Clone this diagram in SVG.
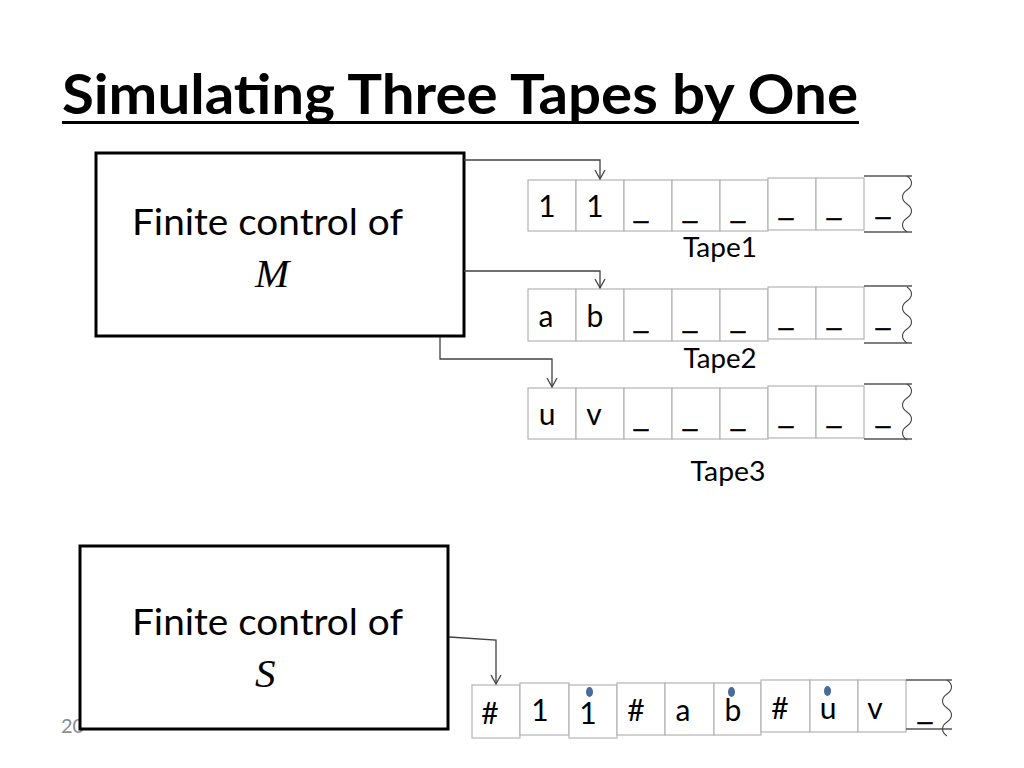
<svg xmlns="http://www.w3.org/2000/svg" width="1024" height="768" viewBox="0 0 1024 768">
<defs>
<style>
.title{font-family:Lato,"Open Sans","Liberation Sans",sans-serif;font-weight:bold;font-size:56px;fill:#000}
.lbl{font-family:Lato,"Open Sans","Liberation Sans",sans-serif;font-size:37px;fill:#000}
.var{font-family:"Liberation Serif","Times New Roman",serif;font-style:italic;font-size:41px;fill:#000}
.box{fill:#fff;stroke:#000;stroke-width:3}
.cell{fill:#fff;stroke:#b4b4b4;stroke-width:1.2}
.edge{stroke:#555;stroke-width:1.5;fill:none}
.wave{stroke:#444;stroke-width:1.1;fill:none}
.ct{font-family:Lato,"Open Sans","Liberation Sans",sans-serif;font-size:30px;fill:#000;text-anchor:middle}
.us{font-family:Lato,"Open Sans","Liberation Sans",sans-serif;font-size:28px;fill:#000;stroke:#000;stroke-width:0.6;text-anchor:middle}
.tl{font-family:Lato,"Open Sans","Liberation Sans",sans-serif;font-size:27px;fill:#000;text-anchor:middle}
.conn{stroke:#404040;stroke-width:1.3;fill:none}
.dot{fill:#4a6a9c}
.pg{font-family:Lato,"Open Sans","Liberation Sans",sans-serif;font-size:20px;fill:#8c8c8c}
</style>
<marker id="arr" markerUnits="userSpaceOnUse" markerWidth="14" markerHeight="14" viewBox="-11 -7 14 14" refX="0" refY="0" orient="auto" overflow="visible">
<path d="M-9,-5 L0,0 L-9,5" fill="none" stroke="#404040" stroke-width="1.3"/>
</marker>
<path id="wv" d="M0,0 c6,4 6,10 0,14 s-6,10 0,14 s6,10 0,14 s-6,10 0,14"/>
</defs>

<g id="title">
<text class="title" x="62" y="114" textLength="796" lengthAdjust="spacingAndGlyphs">Simulating Three Tapes by One</text>
<rect x="62" y="121" width="797" height="3" fill="#000"/>
</g>

<text class="pg" x="61" y="733">20</text>

<g id="controlM">
<rect class="box" x="96" y="153" width="368" height="183"/>
<text class="lbl" x="132" y="235" textLength="271" lengthAdjust="spacingAndGlyphs">Finite control of</text>
<text class="var" x="255" y="287">M</text>
</g>

<g id="controlS">
<rect class="box" x="80" y="546" width="368" height="183"/>
<text class="lbl" x="132" y="635" textLength="271" lengthAdjust="spacingAndGlyphs">Finite control of</text>
<text class="var" x="255" y="687">S</text>
</g>

<g id="tape1">
<rect class="cell" x="528" y="180" width="48" height="51"/>
<rect class="cell" x="576" y="180" width="48" height="51"/>
<rect class="cell" x="624" y="180" width="48" height="51"/>
<rect class="cell" x="672" y="180" width="48" height="51"/>
<rect class="cell" x="720" y="180" width="48" height="51"/>
<rect class="cell" x="768" y="178" width="48" height="52"/>
<rect class="cell" x="816" y="178" width="48" height="52"/>
<line class="edge" x1="864" y1="176" x2="912" y2="176"/>
<line class="edge" x1="864" y1="232" x2="912" y2="232"/>
<use href="#wv" class="wave" x="907" y="176"/>
<text class="ct" x="547" y="217">1</text>
<text class="ct" x="595" y="217">1</text>
<text class="us" x="641" y="219" textLength="17" lengthAdjust="spacingAndGlyphs">_</text>
<text class="us" x="690" y="219" textLength="17" lengthAdjust="spacingAndGlyphs">_</text>
<text class="us" x="738" y="219" textLength="17" lengthAdjust="spacingAndGlyphs">_</text>
<text class="us" x="786" y="216" textLength="17" lengthAdjust="spacingAndGlyphs">_</text>
<text class="us" x="834" y="216" textLength="17" lengthAdjust="spacingAndGlyphs">_</text>
<text class="us" x="883" y="215" textLength="17" lengthAdjust="spacingAndGlyphs">_</text>
<text class="tl" x="720" y="257" textLength="74" lengthAdjust="spacingAndGlyphs">Tape1</text>
</g>

<g id="tape2">
<rect class="cell" x="528" y="289" width="48" height="52"/>
<rect class="cell" x="576" y="289" width="48" height="52"/>
<rect class="cell" x="624" y="289" width="48" height="52"/>
<rect class="cell" x="672" y="289" width="48" height="52"/>
<rect class="cell" x="720" y="289" width="48" height="52"/>
<rect class="cell" x="768" y="287" width="48" height="52"/>
<rect class="cell" x="816" y="287" width="48" height="52"/>
<line class="edge" x1="864" y1="286" x2="912" y2="286"/>
<line class="edge" x1="864" y1="343" x2="912" y2="343"/>
<use href="#wv" class="wave" x="907" y="287"/>
<text class="ct" x="546" y="327">a</text>
<text class="ct" x="595" y="327">b</text>
<text class="us" x="641" y="329" textLength="17" lengthAdjust="spacingAndGlyphs">_</text>
<text class="us" x="690" y="329" textLength="17" lengthAdjust="spacingAndGlyphs">_</text>
<text class="us" x="738" y="329" textLength="17" lengthAdjust="spacingAndGlyphs">_</text>
<text class="us" x="786" y="326" textLength="17" lengthAdjust="spacingAndGlyphs">_</text>
<text class="us" x="834" y="326" textLength="17" lengthAdjust="spacingAndGlyphs">_</text>
<text class="us" x="883" y="326" textLength="17" lengthAdjust="spacingAndGlyphs">_</text>
<text class="tl" x="720" y="368" textLength="73" lengthAdjust="spacingAndGlyphs">Tape2</text>
</g>

<g id="tape3">
<rect class="cell" x="528" y="388" width="48" height="51"/>
<rect class="cell" x="576" y="388" width="48" height="51"/>
<rect class="cell" x="624" y="388" width="48" height="51"/>
<rect class="cell" x="672" y="388" width="48" height="51"/>
<rect class="cell" x="720" y="388" width="48" height="51"/>
<rect class="cell" x="768" y="386" width="48" height="52"/>
<rect class="cell" x="816" y="386" width="48" height="52"/>
<line class="edge" x1="864" y1="384" x2="912" y2="384"/>
<line class="edge" x1="864" y1="439" x2="912" y2="439"/>
<use href="#wv" class="wave" x="907" y="384"/>
<text class="ct" x="547" y="425">u</text>
<text class="ct" x="594" y="425">v</text>
<text class="us" x="641" y="427" textLength="17" lengthAdjust="spacingAndGlyphs">_</text>
<text class="us" x="690" y="427" textLength="17" lengthAdjust="spacingAndGlyphs">_</text>
<text class="us" x="738" y="427" textLength="17" lengthAdjust="spacingAndGlyphs">_</text>
<text class="us" x="786" y="424" textLength="17" lengthAdjust="spacingAndGlyphs">_</text>
<text class="us" x="834" y="424" textLength="17" lengthAdjust="spacingAndGlyphs">_</text>
<text class="us" x="883" y="424" textLength="17" lengthAdjust="spacingAndGlyphs">_</text>
<text class="tl" x="728" y="481" textLength="75" lengthAdjust="spacingAndGlyphs">Tape3</text>
</g>

<g id="tapeS">
<rect class="cell" x="472" y="685" width="48" height="53"/>
<rect class="cell" x="520" y="683" width="49" height="52"/>
<rect class="cell" x="569" y="685" width="48" height="53"/>
<rect class="cell" x="617" y="683" width="48" height="52"/>
<rect class="cell" x="665" y="683" width="49" height="52"/>
<rect class="cell" x="714" y="683" width="47" height="52"/>
<rect class="cell" x="761" y="680" width="49" height="52"/>
<rect class="cell" x="810" y="680" width="48" height="52"/>
<rect class="cell" x="858" y="680" width="48" height="52"/>
<line class="edge" x1="906" y1="680" x2="952" y2="680"/>
<line class="edge" x1="906" y1="729" x2="952" y2="729"/>
<use href="#wv" class="wave" x="947" y="680"/>
<ellipse class="dot" cx="589.5" cy="692" rx="3.5" ry="5"/>
<ellipse class="dot" cx="731.5" cy="692" rx="3.5" ry="5"/>
<ellipse class="dot" cx="827.5" cy="691" rx="3.5" ry="5"/>
<text class="ct" x="490" y="724">#</text>
<text class="ct" x="540" y="721">1</text>
<text class="ct" x="588" y="724">1</text>
<text class="ct" x="636" y="721">#</text>
<text class="ct" x="683" y="721">a</text>
<text class="ct" x="733" y="721">b</text>
<text class="ct" x="780" y="719">#</text>
<text class="ct" x="828" y="719">u</text>
<text class="ct" x="875" y="719">v</text>
<text class="us" x="925" y="720" textLength="17" lengthAdjust="spacingAndGlyphs">_</text>
</g>

<g id="connectors">
<path class="conn" d="M464,160 H600 V179" marker-end="url(#arr)"/>
<path class="conn" d="M464,271 H600 V288" marker-end="url(#arr)"/>
<path class="conn" d="M440,337 V359 H552 V387" marker-end="url(#arr)"/>
<path class="conn" d="M449,637 L496,640 V684" marker-end="url(#arr)"/>
</g>
</svg>
